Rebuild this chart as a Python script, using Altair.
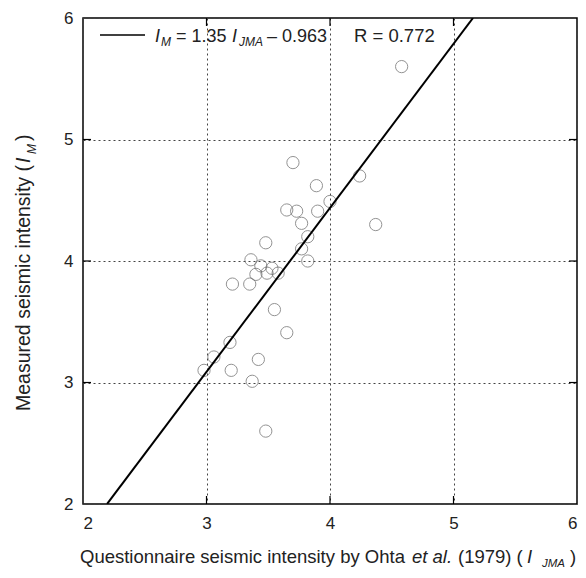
import altair as alt
import pandas as pd

# Data
x_jma = [4.58, 3.70, 4.24, 3.89, 4.00, 3.65, 3.73, 3.90, 3.77, 4.37, 3.82, 3.48, 3.77,
         3.82, 3.36, 3.44, 3.53, 3.40, 3.49, 3.58, 3.21, 3.35, 3.55, 3.65, 3.19, 3.06,
         3.42, 2.98, 3.20, 3.37, 3.48]
y_m = [5.60, 4.81, 4.70, 4.62, 4.49, 4.42, 4.41, 4.41, 4.31, 4.30, 4.20, 4.15, 4.10,
       4.00, 4.01, 3.96, 3.94, 3.89, 3.90, 3.90, 3.81, 3.81, 3.60, 3.41, 3.33, 3.21,
       3.19, 3.10, 3.10, 3.01, 2.60]
tick_vals = [2, 3, 4, 5, 6]
inner_ticks = [3, 4, 5]
slope = 1.35
intercept = -0.963
line_x = [2.195, 5.158]

W, H = 494, 486
FONT = "Liberation Sans"
TXT = "#222222"

pts = pd.DataFrame({"x": x_jma, "y": y_m})
fit = pd.DataFrame({"x": line_x, "y": [slope * v + intercept for v in line_x]})
tkx = pd.DataFrame({"x": inner_ticks})
tky = pd.DataFrame({"y": inner_ticks})

xs = alt.Scale(domain=[2, 6], nice=False, zero=False)
ys = alt.Scale(domain=[2, 6], nice=False, zero=False)


def axis(pad):
    return alt.Axis(values=tick_vals, title=None, grid=True, gridDash=[2, 3],
                    gridColor="#444444", gridWidth=1, ticks=False, domain=False,
                    labelFontSize=17, labelFont=FONT, labelColor=TXT,
                    labelPadding=pad, format="d")


X = alt.X("x:Q", scale=xs, axis=axis(11))
Y = alt.Y("y:Q", scale=ys, axis=axis(10))

points = alt.Chart(pts).mark_point(filled=False, size=150, color="#666666",
                                   strokeWidth=1).encode(x=X, y=Y)

fit_line = alt.Chart(fit).mark_line(color="black", strokeWidth=2, clip=True).encode(
    x=X, y=Y)

tick_bottom = alt.Chart(tkx).mark_rule(color="black", strokeWidth=1.2).encode(
    x=X, y=alt.value(H), y2=alt.value(H - 8))
tick_top = alt.Chart(tkx).mark_rule(color="black", strokeWidth=1.2).encode(
    x=X, y=alt.value(0), y2=alt.value(8))
tick_left = alt.Chart(tky).mark_rule(color="black", strokeWidth=1.2).encode(
    y=Y, x=alt.value(0), x2=alt.value(8))
tick_right = alt.Chart(tky).mark_rule(color="black", strokeWidth=1.2).encode(
    y=Y, x=alt.value(W), x2=alt.value(W - 8))


def txt(s, x, y, size=18, italic=False, angle=0):
    kw = dict(align="left", baseline="alphabetic", font=FONT, fontSize=size,
              fontStyle="italic" if italic else "normal", color=TXT)
    if angle:
        kw["angle"] = angle
    return alt.Chart(pd.DataFrame({"t": [s]})).mark_text(**kw).encode(
        x=alt.value(x), y=alt.value(y), text="t:N")


legend_line = alt.Chart(pd.DataFrame({"a": [0]})).mark_rule(
    color="black", strokeWidth=1.3).encode(
    x=alt.value(17), x2=alt.value(62), y=alt.value(17))

legend_txt = [
    txt("I", 72, 24, italic=True),
    txt("M", 78, 28, size=12, italic=True),
    txt("= 1.35", 93, 24),
    txt("I", 149, 24, italic=True),
    txt("JMA", 156, 28, size=12, italic=True),
    txt("\u2013 0.963", 184, 24),
    txt("R = 0.772", 271, 24, size=18.5),
]

xtitle = [
    txt("Questionnaire seismic intensity by Ohta", -3, 545, size=18.5),
    txt("et al.", 329, 545, size=18.5, italic=True),
    txt("(1979) (", 375, 545, size=18.5),
    txt("I", 444, 545, size=18.5, italic=True),
    txt("JMA", 459, 549, size=11.5, italic=True),
    txt(")", 487, 545, size=18.5),
]

ytitle = [
    txt("Measured seismic intensity (", -53, 393, size=19.5, angle=270),
    txt("I", -53, 145, size=19.5, italic=True, angle=270),
    txt("M", -47, 136, size=12, italic=True, angle=270),
    txt(")", -53, 123, size=19.5, angle=270),
]

chart = alt.layer(
    points, fit_line, tick_bottom, tick_top, tick_left, tick_right, legend_line,
    *legend_txt, *xtitle, *ytitle
).properties(
    width=W, height=H,
    autosize=alt.AutoSizeParams(type="none"),
    padding={"left": 75, "top": 10, "right": 1, "bottom": 66},
    background="white",
).configure_view(stroke="black", strokeWidth=1.5)

chart.save("out.html", embed_options={"renderer": "svg", "actions": False})
